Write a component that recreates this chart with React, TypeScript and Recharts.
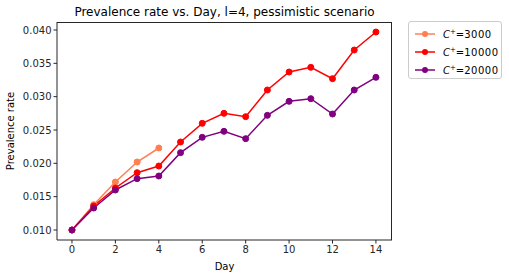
import { LineChart, Line, XAxis, YAxis, Label } from "recharts"

const days = [0, 1, 2, 3, 4, 5, 6, 7, 8, 9, 10, 11, 12, 13, 14]
const c3000 = [0.0100, 0.0138, 0.0172, 0.0202, 0.0223]
const c10000 = [0.0100, 0.0136, 0.0163, 0.0186, 0.0196, 0.0232, 0.0260, 0.0275, 0.0270, 0.0310, 0.0337, 0.0344, 0.0327, 0.0370, 0.0397]
const c20000 = [0.0100, 0.0133, 0.0160, 0.0177, 0.0181, 0.0216, 0.0239, 0.0248, 0.0237, 0.0272, 0.0293, 0.0297, 0.0274, 0.0310, 0.0329]
const xTicks = [0, 2, 4, 6, 8, 10, 12, 14]
const yTicks = [0.010, 0.015, 0.020, 0.025, 0.030, 0.035, 0.040]

const series = [
    { key: "c3000", label: "3000", color: "#ff7f50" },
    { key: "c10000", label: "10000", color: "#ff0000" },
    { key: "c20000", label: "20000", color: "#800080" },
]

const data = days.map((d, i) => ({ day: d, c3000: c3000[i], c10000: c10000[i], c20000: c20000[i] }))

const FONT = "'DejaVu Sans', sans-serif"
const X0 = -0.69, X1 = 14.74, Y0 = 0.0085, Y1 = 0.0412

export default function App() {
    const tick = { fontSize: 10, fill: "#262626", fontFamily: FONT }
    return (
        <div style={{ position: "absolute", left: 0, top: 0, width: 509, height: 278, background: "#fff", fontFamily: FONT }}>
            <div style={{ position: "absolute", left: 57, width: 335, top: 5, textAlign: "center", fontSize: 12, color: "#000", whiteSpace: "nowrap" }}>
                Prevalence rate vs. Day, l=4, pessimistic scenario
            </div>
            <LineChart width={509} height={278} data={data} margin={{ top: 22, right: 117, bottom: 0, left: 0 }}>
                <XAxis dataKey="day" type="number" domain={[X0, X1]} ticks={xTicks} allowDataOverflow
                    height={38} tick={tick} tickSize={3.5} tickMargin={2} stroke="#262626"
                    axisLine={{ stroke: "#262626" }} tickLine={{ stroke: "#262626" }}>
                    <Label value="Day" position="insideBottom" offset={8} style={{ fontSize: 10, fill: "#000", fontFamily: FONT }} />
                </XAxis>
                <YAxis type="number" domain={[Y0, Y1]} ticks={yTicks} allowDataOverflow width={57}
                    tick={tick} tickSize={3.5} tickMargin={2} tickFormatter={(v: number) => v.toFixed(3)}
                    axisLine={{ stroke: "#262626" }} tickLine={{ stroke: "#262626" }}>
                    <Label value="Prevalence rate" angle={-90} position="insideLeft" offset={10} style={{ fontSize: 10, fill: "#000", fontFamily: FONT, textAnchor: "middle" }} />
                </YAxis>
                {series.map((s) => (
                    <Line key={s.key} dataKey={s.key} stroke={s.color} strokeWidth={1.5}
                        dot={{ r: 3, fill: s.color, stroke: s.color, strokeWidth: 1 }}
                        activeDot={false} isAnimationActive={false} connectNulls={false} />
                ))}
            </LineChart>
            {/* plot frame: top and right spines */}
            <div style={{ position: "absolute", left: 57, top: 22, width: 335, height: 218, borderTop: "1px solid #262626", borderRight: "1px solid #262626", boxSizing: "border-box", pointerEvents: "none" }} />
            <div style={{ position: "absolute", left: 408, top: 21, width: 94, height: 58, border: "1px solid #cccccc", borderRadius: 3, boxSizing: "border-box" }}>
                {series.map((s, i) => (
                    <div key={s.key} style={{ position: "absolute", left: 6, top: 4 + i * 18, height: 16, display: "flex", alignItems: "center", fontSize: 10, color: "#000", whiteSpace: "nowrap" }}>
                        <svg width={20} height={10} style={{ marginRight: 8 }}>
                            <line x1={0} y1={5} x2={20} y2={5} stroke={s.color} strokeWidth={1.5} />
                            <circle cx={10} cy={5} r={3} fill={s.color} />
                        </svg>
                        <span><i>C</i><sup style={{ fontSize: 7, verticalAlign: "4px" }}>+</sup>=<span style={{ letterSpacing: 0.5 }}>{s.label}</span></span>
                    </div>
                ))}
            </div>
        </div>
    )
}
